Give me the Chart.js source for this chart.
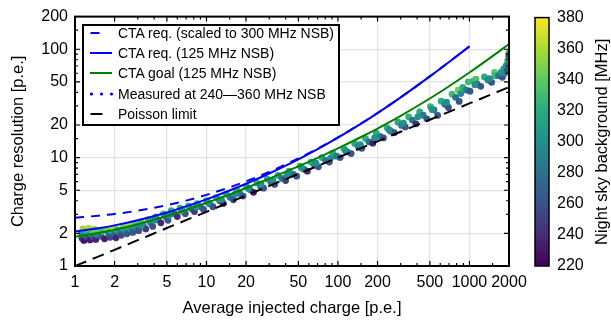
<!DOCTYPE html>
<html>
<head>
<meta charset="utf-8">
<script src="https://cdn.jsdelivr.net/npm/chart.js@4.4.1/dist/chart.umd.min.js"></script>
<style>
  html, body { margin: 0; padding: 0; background: #fff; }
  #wrap { position: relative; width: 611px; height: 320px; font-family: 'Liberation Sans', Arial, sans-serif; }
  #leg { position: absolute; left: 82px; top: 24px; width: 254px; height: 98px; border: 2px solid #000; background: #fff; }
  .row { position: absolute; left: 0; height: 20px; line-height: 20px; font-size: 14px; color: #000; white-space: nowrap; }
  .row svg { position: absolute; left: 6px; top: 0; }
  .row span { position: absolute; left: 34px; }
</style>
</head>
<body>
<div id="wrap">
  <canvas id="cr" width="611" height="320"></canvas>
  <div id="leg">
    <div class="row" style="top:-3px"><svg width="26" height="20"><line x1="0.5" y1="10" x2="22" y2="10" stroke="#0000ff" stroke-width="2" stroke-dasharray="9 14"/></svg><span>CTA req. (scaled to 300 MHz NSB)</span></div>
    <div class="row" style="top:17px"><svg width="26" height="20"><line x1="0" y1="10" x2="22" y2="10" stroke="#0000ff" stroke-width="2"/></svg><span>CTA req. (125 MHz NSB)</span></div>
    <div class="row" style="top:37px"><svg width="26" height="20"><line x1="0" y1="10" x2="22" y2="10" stroke="#008000" stroke-width="2"/></svg><span>CTA goal (125 MHz NSB)</span></div>
    <div class="row" style="top:58px"><svg width="26" height="20"><circle cx="1.5" cy="10" r="1.6" fill="#0000ff"/><circle cx="11.5" cy="10" r="1.6" fill="#0000ff"/><circle cx="21.5" cy="10" r="1.6" fill="#0000ff"/></svg><span>Measured at 240—360 MHz NSB</span></div>
    <div class="row" style="top:78px"><svg width="26" height="20"><line x1="0.5" y1="10" x2="12.5" y2="10" stroke="#000" stroke-width="2"/></svg><span>Poisson limit</span></div>
  </div>
</div>
<script>
// axes / ticks
const xMajor = [1, 2, 5, 10, 20, 50, 100, 200, 500, 1000, 2000];
const yMajor = [1, 2, 5, 10, 20, 50, 100, 200];
const cbMin = 220, cbMax = 380;
const cbTicks = [220, 240, 260, 280, 300, 320, 340, 360, 380];

// CTA curves
const reqQ = [1, 1.5, 2, 3, 5, 7, 10, 15, 20, 30, 50, 70, 100, 150, 200, 300, 500, 700, 1000];
const reqScaled = [2.79, 2.91, 3.02, 3.24, 3.64, 4.01, 4.53, 5.32, 6.04, 7.38, 9.82, 12.10, 15.38, 20.65, 25.82, 36.01, 56.18, 76.27, 106.33];
const req125 = [2.08, 2.23, 2.37, 2.64, 3.12, 3.55, 4.12, 4.97, 5.74, 7.14, 9.64, 11.96, 15.26, 20.57, 25.75, 35.96, 56.15, 76.24, 106.3];
const goalQ = [1, 1.5, 2, 3, 5, 7, 10, 15, 20, 30, 50, 70, 100, 150, 200, 300, 500, 700, 1000, 1500, 2000];
const goal125 = [1.86, 2.02, 2.16, 2.43, 2.89, 3.29, 3.82, 4.58, 5.24, 6.39, 8.31, 9.96, 12.18, 15.49, 18.55, 24.30, 35.10, 45.54, 60.93, 86.27, 111.46];
const poisson = [1, 1.22, 1.41, 1.73, 2.24, 2.65, 3.16, 3.87, 4.47, 5.48, 7.07, 8.37, 10, 12.25, 14.14, 17.32, 22.36, 26.46, 31.62, 38.73, 44.72];

// measured points: [injected charge, resolution, NSB MHz]
const measured = [
  [1.12, 1.98, 300], [1.13, 1.80, 250], [1.15, 2.20, 355], [1.17, 1.72, 228], [1.19, 1.92, 280], [1.22, 2.05, 320],
  [1.25, 1.84, 265], [1.27, 2.24, 360], [1.30, 1.74, 232], [1.32, 1.97, 295], [1.35, 2.08, 335], [1.38, 1.86, 270],
  [1.41, 2.18, 350], [1.44, 1.76, 235], [1.46, 1.95, 290], [1.48, 2.10, 340],
  [1.58, 1.88, 270], [1.62, 2.10, 330], [1.68, 1.78, 232], [1.74, 2.16, 345], [1.80, 1.98, 285], [1.85, 1.84, 255],
  [1.90, 2.10, 320], [1.95, 2.24, 358], [2.0, 1.96, 275], [2.05, 1.82, 238], [2.1, 2.16, 325], [2.18, 2.04, 290],
  [2.25, 1.92, 258], [2.32, 2.30, 350], [2.4, 2.14, 305], [2.48, 1.98, 262], [2.56, 2.36, 355], [2.65, 2.20, 300],
  [2.75, 2.04, 262], [2.85, 2.44, 340], [2.95, 2.28, 295], [3.05, 2.12, 258],
  [3.15, 2.54, 335], [3.3, 2.38, 290], [3.45, 2.20, 245], [3.6, 2.68, 330], [3.75, 2.50, 285], [3.9, 2.32, 262],
  [4.1, 2.84, 325], [4.3, 2.66, 280], [4.5, 2.50, 238], [4.7, 3.02, 330], [4.9, 2.84, 285], [5.1, 2.64, 262],
  [5.4, 3.24, 320], [5.7, 3.04, 275], [6.0, 2.86, 240], [6.3, 3.42, 322], [6.6, 3.20, 280], [6.9, 3.04, 262],
  [7.3, 3.58, 325], [7.7, 3.36, 285], [8.1, 3.18, 245], [8.5, 3.76, 320], [9.0, 3.52, 280], [9.5, 3.32, 262],
  [10.0, 4.00, 325], [10.6, 3.74, 285], [11.2, 3.52, 262], [11.9, 4.28, 318], [12.6, 4.00, 275], [13.4, 3.78, 232],
  [14.2, 4.60, 320], [15.1, 4.30, 280], [16.0, 4.08, 262], [17.0, 4.98, 322], [18.0, 4.66, 285], [19.0, 4.42, 262],
  [20.2, 5.38, 318], [21.5, 5.04, 290], [22.8, 4.78, 235], [24.2, 5.84, 320], [25.7, 5.46, 280], [27.2, 5.22, 262],
  [29.0, 6.32, 318], [31.0, 5.92, 282], [33.0, 5.66, 262], [35.0, 6.86, 320], [37.5, 6.42, 280], [40.0, 6.14, 248],
  [42.5, 7.50, 318], [45.5, 7.04, 285], [48.5, 6.74, 262], [51.5, 8.36, 322], [55.0, 7.84, 280], [58.5, 7.50, 240],
  [62.5, 9.06, 318], [66.5, 8.52, 285], [71.0, 8.22, 262], [75.5, 10.0, 320], [80.5, 9.42, 280], [86.0, 9.10, 262],
  [91.5, 11.0, 318], [97.5, 10.3, 285], [104, 10.0, 262], [111, 12.1, 322], [118, 11.3, 282], [126, 10.9, 262],
  [134, 13.5, 318], [143, 12.6, 285], [152, 12.2, 262], [162, 15.0, 322], [172, 14.0, 280], [184, 13.6, 235],
  [196, 16.8, 320], [209, 15.7, 285], [222, 15.2, 262], [237, 18.8, 322], [252, 17.5, 280], [268, 17.0, 262],
  [286, 21.2, 318], [305, 19.8, 285], [325, 19.2, 262], [345, 23.8, 322], [368, 22.2, 282], [392, 20.5, 240],
  [418, 26.4, 320], [445, 24.6, 285], [474, 22.8, 262], [505, 29.5, 325], [538, 27.5, 282], [573, 24.5, 262],
  [610, 33.2, 320], [650, 31.0, 285], [692, 29.0, 262], [737, 38.5, 330], [785, 36.0, 280], [836, 33.0, 262],
  [820, 42.0, 345], [890, 44.5, 322], [948, 42.0, 285], [980, 50.0, 330], [1010, 41.0, 262], [1075, 51.0, 325],
  [1120, 53.0, 335], [1145, 47.5, 280], [1220, 45.5, 262], [1300, 55.5, 320], [1385, 52.0, 285], [1475, 49.5, 262],
  [1550, 61.0, 340], [1570, 57.0, 325], [1670, 57.0, 282], [1780, 55.0, 262], [1820, 66.0, 320], [1850, 60.0, 285],
  [1900, 70.0, 300], [1920, 63.0, 262], [1950, 78.0, 330], [1970, 72.0, 285], [1985, 85.0, 300], [1990, 92.0, 330],
  [2000, 88.0, 275],
  // filler points inside the band
  [3.2, 2.36, 300], [4.0, 2.64, 300], [5.2, 2.94, 300], [6.5, 3.24, 300], [8.3, 3.50, 300], [10.3, 3.84, 300],
  [13.0, 4.10, 300], [16.5, 4.58, 300], [20.8, 5.20, 300], [26.0, 5.70, 300], [32.0, 6.20, 300], [41.0, 6.90, 300],
  [53.0, 8.00, 300], [68.0, 8.90, 300], [88.0, 9.90, 300], [114, 11.6, 300], [148, 13.2, 300], [190, 15.2, 300],
  [245, 18.0, 300], [315, 20.8, 300], [405, 23.8, 300], [520, 27.8, 300], [670, 32.5, 300], [860, 39.0, 300],
  [1100, 47.0, 300], [1420, 53.5, 300], [1740, 61.0, 300]
];

const VIR = ['#440154', '#472c7a', '#3b518b', '#2c718e', '#21908d', '#27ad81', '#5cc863', '#aadc32', '#fde725'];
function hex(h) { return [1, 3, 5].map((i) => parseInt(h.substr(i, 2), 16)); }
function viridis(v) {
  const t = Math.min(1, Math.max(0, (v - cbMin) / (cbMax - cbMin))) * (VIR.length - 1);
  const i = Math.min(VIR.length - 2, Math.floor(t));
  const f = t - i, a = hex(VIR[i]), b = hex(VIR[i + 1]);
  return 'rgb(' + a.map((c, k) => Math.round(c + (b[k] - c) * f)).join(',') + ')';
}

function majorOf(v, list) {
  if (!v) return null;
  for (const m of list) if (Math.abs(Math.log10(v) - Math.log10(m)) < 1e-6) return m;
  return null;
}
const pts = (xs, ys) => xs.map((x, i) => ({ x, y: ys[i] }));

const FONT = "'Liberation Sans', Arial, sans-serif";
Chart.defaults.font.family = FONT;
Chart.defaults.color = '#000';

// frame + inward ticks on all four sides
const framePlugin = {
  id: 'frame',
  afterDatasetsDraw(chart) {
    const { ctx, chartArea: a, scales } = chart;
    ctx.save();
    ctx.strokeStyle = '#000';
    ctx.lineWidth = 1.2;
    scales.x.ticks.forEach((t) => {
      const p = scales.x.getPixelForValue(t.value);
      if (p <= a.left + 1 || p >= a.right - 1) return;
      const len = majorOf(t.value, xMajor) ? 5 : 3;
      ctx.beginPath();
      ctx.moveTo(p, a.bottom); ctx.lineTo(p, a.bottom - len);
      ctx.moveTo(p, a.top); ctx.lineTo(p, a.top + len);
      ctx.stroke();
    });
    scales.y.ticks.forEach((t) => {
      const p = scales.y.getPixelForValue(t.value);
      if (p <= a.top + 1 || p >= a.bottom - 1) return;
      const len = majorOf(t.value, yMajor) ? 5 : 3;
      ctx.beginPath();
      ctx.moveTo(a.left, p); ctx.lineTo(a.left + len, p);
      ctx.moveTo(a.right, p); ctx.lineTo(a.right - len, p);
      ctx.stroke();
    });
    ctx.lineWidth = 2;
    ctx.strokeRect(a.left, a.top, a.right - a.left, a.bottom - a.top);
    ctx.restore();
  }
};

// colour bar for the NSB scale
const colorbarPlugin = {
  id: 'colorbar',
  afterDraw(chart) {
    const { ctx, chartArea: a } = chart;
    const left = 535, w = 14, top = a.top + 1, bot = a.bottom;
    const g = ctx.createLinearGradient(0, bot, 0, top);
    VIR.forEach((c, i) => g.addColorStop(i / (VIR.length - 1), c));
    ctx.save();
    ctx.fillStyle = g;
    ctx.fillRect(left, top, w, bot - top);
    ctx.strokeStyle = '#000';
    ctx.lineWidth = 1.5;
    ctx.strokeRect(left, top, w, bot - top);
    ctx.fillStyle = '#000';
    ctx.font = '16px ' + FONT;
    ctx.textAlign = 'left';
    ctx.textBaseline = 'middle';
    cbTicks.forEach((v) => {
      const y = bot - (v - cbMin) / (cbMax - cbMin) * (bot - top);
      ctx.fillText(String(v), 557, y);
    });
    ctx.font = '16.5px ' + FONT;
    ctx.translate(602, (top + bot) / 2);
    ctx.rotate(-Math.PI / 2);
    ctx.textAlign = 'center';
    ctx.fillText('Night sky background [MHz]', 0, 0);
    ctx.restore();
  }
};

const lineDs = (label, data, color, dash, order) => ({
  label, data, showLine: true, borderColor: color, backgroundColor: color,
  borderWidth: 2, borderDash: dash, pointRadius: 0, cubicInterpolationMode: 'monotone', order
});

new Chart(document.getElementById('cr').getContext('2d'), {
  type: 'scatter',
  data: {
    datasets: [
      lineDs('CTA req. (scaled to 300 MHz NSB)', pts(reqQ, reqScaled), '#0000ff', [9, 7], 1),
      lineDs('CTA req. (125 MHz NSB)', pts(reqQ, req125), '#0000ff', [], 2),
      lineDs('CTA goal (125 MHz NSB)', pts(goalQ, goal125), '#008000', [], 3),
      {
        label: 'Measured at 240—360 MHz NSB',
        data: measured.map((m) => ({ x: m[0], y: m[1] })),
        backgroundColor: measured.map((m) => viridis(m[2])),
        pointRadius: 3.4, pointBorderWidth: 0, order: 5
      },
      lineDs('Poisson limit', pts(goalQ, poisson), '#000000', [12, 7], 4)
    ]
  },
  options: {
    responsive: false,
    animation: false,
    layout: { padding: { left: 0, top: 16, right: 102, bottom: 0 } },
    plugins: { legend: { display: false }, tooltip: { enabled: false } },
    scales: {
      x: {
        type: 'logarithmic', min: 1, max: 2000,
        afterFit(s) { s.height = 54; },
        border: { display: false },
        grid: { drawTicks: false, lineWidth: 1.2, color: (c) => (c.tick && majorOf(c.tick.value, xMajor) ? '#e3e3e3' : 'rgba(0,0,0,0)') },
        ticks: {
          autoSkip: false, maxRotation: 0, padding: 7, font: { size: 16 }, color: '#000',
          callback: (v) => { const m = majorOf(v, xMajor); return m ? String(m) : ''; }
        },
        title: { display: true, text: 'Average injected charge [p.e.]', color: '#000', font: { size: 16.5 }, padding: { top: 0, bottom: 2 } }
      },
      y: {
        type: 'logarithmic', min: 1, max: 200,
        afterFit(s) { s.width = 75; },
        border: { display: false },
        grid: { drawTicks: false, lineWidth: 1.2, color: (c) => (c.tick && majorOf(c.tick.value, yMajor) ? '#e3e3e3' : 'rgba(0,0,0,0)') },
        ticks: {
          autoSkip: false, padding: 7, font: { size: 16 }, color: '#000',
          callback: (v) => { const m = majorOf(v, yMajor); return m ? String(m) : ''; }
        },
        title: { display: true, text: 'Charge resolution [p.e.]', color: '#000', font: { size: 16.5 }, padding: { top: 9, bottom: 0 } }
      }
    }
  },
  plugins: [framePlugin, colorbarPlugin]
});
</script>
</body>
</html>
